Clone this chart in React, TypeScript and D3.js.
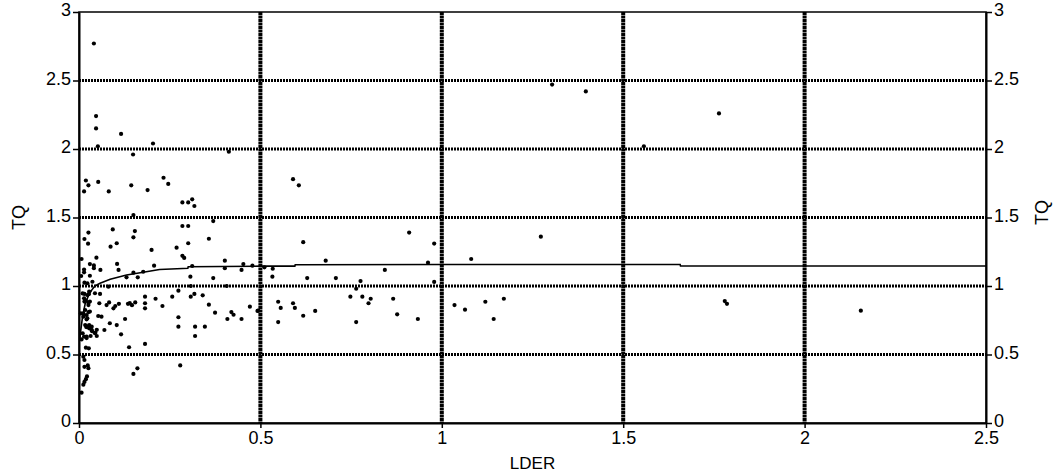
import React, { useEffect, useRef } from 'react';
import * as d3 from 'd3';

// scatter values (LDER, TQ)
const lder = [
  0.041, 0.047, 0.047, 0.052, 0.116, 0.149, 0.204, 0.413, 0.014, 0.019,
  0.026, 0.053, 0.082, 0.144, 0.189, 0.233, 0.246, 0.285, 0.301, 0.312,
  0.318, 0.15, 0.026, 0.015, 0.025, 0.093, 0.154, 0.15, 0.104, 0.087,
  0.2, 0.285, 0.301, 0.37, 0.358, 0.301, 0.269, 0.285, 0.29, 0.007,
  0.048, 0.03, 0.041, 0.041, 0.059, 0.014, 0.014, 0.105, 0.109, 0.207,
  0.006, 0.03, 0.131, 0.15, 0.162, 0.177, 0.037, 0.015, 0.081, 0.023,
  0.402, 0.402, 0.453, 0.448, 0.478, 0.312, 0.511, 0.534, 0.307, 0.37,
  0.533, 0.274, 0.308, 0.407,
  0.015, 0.027, 0.044, 0.015, 0.026, 0.058, 0.056, 0.076, 0.083, 0.1,
  0.095, 0.11, 0.14, 0.146, 0.155, 0.135, 0.182, 0.182, 0.182, 0.211,
  0.23, 0.257, 0.274, 0.274, 0.308, 0.318, 0.341, 0.358, 0.375, 0.409,
  0.42, 0.426, 0.448, 0.471, 0.492, 0.32, 0.347, 0.32, 0.012, 0.026,
  0.021, 0.053, 0.062, 0.085, 0.104, 0.127, 0.07, 0.116, 0.02, 0.028,
  0.032, 0.036, 0.045, 0.049, 0.007, 0.014, 0.021, 0.01, 0.019, 0.027,
  0.138, 0.182, 0.015, 0.026, 0.024, 0.012, 0.015, 0.15, 0.161, 0.279,
  0.022, 0.019, 0.015, 0.012, 0.007,
  0.01, 0.014, 0.019, 0.023, 0.028, 0.026, 0.03, 0.017, 0.021, 0.012,
  0.023, 0.03, 0.017, 0.023, 0.028, 0.035, 0.021, 0.032, 0.044, 0.049,
  0.035, 0.005,
  0.494, 0.549, 0.556, 0.549, 0.59, 0.595, 0.618, 0.651, 0.748, 0.781,
  0.798, 0.804, 0.764, 0.866, 0.877, 0.934, 1.035, 1.064, 1.12, 1.143,
  1.171, 0.59, 0.606, 0.618, 0.68, 0.91, 0.979, 0.962, 1.081, 0.629,
  0.708, 0.843, 0.776, 0.764, 0.979,
  1.273, 1.304, 1.397, 1.557, 1.764, 1.78, 1.786, 2.155,
];

const tq = [
  2.77, 2.24, 2.15, 2.02, 2.11, 1.96, 2.04, 1.98, 1.69, 1.77,
  1.735, 1.76, 1.69, 1.735, 1.7, 1.79, 1.745, 1.61, 1.61, 1.633,
  1.584, 1.518, 1.39, 1.343, 1.309, 1.413, 1.401, 1.355, 1.312, 1.287,
  1.263, 1.438, 1.438, 1.474, 1.345, 1.312, 1.28, 1.22, 1.205, 1.197,
  1.207, 1.16, 1.15, 1.13, 1.117, 1.12, 1.1, 1.161, 1.117, 1.148,
  1.073, 1.075, 1.063, 1.097, 1.063, 1.104, 1.031, 1.024, 0.995, 1.02,
  1.185, 1.13, 1.16, 1.117, 1.148, 1.146, 1.136, 1.126, 1.068, 1.058,
  1.068, 0.966, 1.0, 1.0,
  0.942, 0.94, 0.947, 0.886, 0.878, 0.942, 0.874, 0.861, 0.88, 0.854,
  0.837, 0.87, 0.875, 0.86, 0.88, 0.87, 0.922, 0.874, 0.837, 0.907,
  0.854, 0.922, 0.772, 0.703, 0.922, 0.942, 0.932, 0.864, 0.805, 0.759,
  0.81, 0.79, 0.759, 0.849, 0.818, 0.703, 0.703, 0.635, 0.8, 0.81,
  0.757, 0.781, 0.776, 0.728, 0.715, 0.759, 0.679, 0.647, 0.7, 0.715,
  0.69, 0.67, 0.66, 0.68, 0.61, 0.63, 0.62, 0.655, 0.55, 0.545,
  0.553, 0.577, 0.41, 0.4, 0.42, 0.484, 0.46, 0.358, 0.399, 0.42,
  0.34, 0.32, 0.3, 0.28, 0.221,
  0.946, 0.91, 0.893, 0.934, 0.959, 0.861, 0.886, 0.825, 0.788, 0.776,
  0.764, 0.813, 0.715, 0.703, 0.691, 0.703, 0.63, 0.635, 0.655, 0.635,
  0.679, 0.8,
  0.82, 0.885, 0.84, 0.737, 0.874, 0.84, 0.783, 0.818, 0.922, 0.922,
  0.874, 0.907, 0.737, 0.907, 0.793, 0.759, 0.861, 0.827, 0.885, 0.759,
  0.907, 1.78, 1.735, 1.32, 1.185, 1.39, 1.31, 1.17, 1.197, 1.058,
  1.058, 1.117, 1.036, 0.98, 1.03,
  1.36, 2.47, 2.42, 2.02, 2.26, 0.89, 0.87, 0.82,
];

// fitted curve
const fitX = [0.002, 0.005, 0.01, 0.017, 0.026, 0.035, 0.044, 0.058, 0.086, 0.131, 0.177, 0.222, 0.286, 0.3, 0.301, 0.5, 0.595, 0.596, 1.0, 1.657, 1.658, 2.5];
const fitY = [0.6, 0.68, 0.78, 0.87, 0.93, 0.97, 1.0, 1.02, 1.05, 1.08, 1.1, 1.12, 1.128, 1.13, 1.14, 1.145, 1.145, 1.155, 1.157, 1.157, 1.146, 1.146];

const xTicks = [0, 0.5, 1, 1.5, 2, 2.5];
const yTicks = [0, 0.5, 1, 1.5, 2, 2.5, 3];

const App = () => {
  const svgRef = useRef<SVGSVGElement>(null);

  useEffect(() => {
    const width = 1060;
    const height = 474;
    const left = 79, right = 986, top = 12, bottom = 423;
    const font = 'Arial, "Liberation Sans", sans-serif';

    const svg = d3.select(svgRef.current);
    svg.selectAll('*').remove();
    svg.attr('width', width).attr('height', height);

    const x = d3.scaleLinear().domain([0, 2.5]).range([left, right]);
    const y = d3.scaleLinear().domain([0, 3]).range([bottom, top]);

    // plot frame
    svg.append('rect')
      .attr('x', left).attr('y', top)
      .attr('width', right - left).attr('height', bottom - top)
      .attr('fill', 'none')
      .attr('stroke', '#000')
      .attr('stroke-width', 1.5);

    // grid
    svg.append('g')
      .selectAll('line')
      .data(yTicks.filter(d => d > 0 && d < 3))
      .enter()
      .append('line')
      .attr('x1', left).attr('x2', right)
      .attr('y1', d => y(d)).attr('y2', d => y(d))
      .attr('stroke', '#000')
      .attr('stroke-width', 3)
      .attr('stroke-dasharray', '2,1');

    svg.append('g')
      .selectAll('line')
      .data(xTicks.filter(d => d > 0 && d < 2.5))
      .enter()
      .append('line')
      .attr('y1', top).attr('y2', bottom)
      .attr('x1', d => x(d)).attr('x2', d => x(d))
      .attr('stroke', '#000')
      .attr('stroke-width', 4)
      .attr('stroke-dasharray', '3,0.5');

    // fit line
    const line = d3.line<number>()
      .x((_, i) => x(fitX[i]))
      .y(d => y(d));
    svg.append('path')
      .attr('d', line(fitY))
      .attr('fill', 'none')
      .attr('stroke', '#000')
      .attr('stroke-width', 1.6);

    // points
    svg.append('g')
      .selectAll('circle')
      .data(tq)
      .enter()
      .append('circle')
      .attr('cx', (_, i) => x(lder[i]))
      .attr('cy', d => y(d))
      .attr('r', 2.1)
      .attr('fill', '#000');

    // axes
    const styleAxis = (g: any) => {
      g.select('.domain').attr('stroke-width', 2);
      g.selectAll('.tick line').attr('stroke-width', 1.5);
      g.selectAll('.tick text').attr('font-family', font).attr('font-size', 18).attr('fill', '#000');
    };

    svg.append('g')
      .attr('transform', `translate(0,${bottom})`)
      .call(d3.axisBottom(x).tickValues(xTicks).tickFormat(d3.format('')).tickSizeInner(5).tickSizeOuter(0).tickPadding(3))
      .call(styleAxis);

    svg.append('g')
      .attr('transform', `translate(${left},0)`)
      .call(d3.axisLeft(y).tickValues(yTicks).tickFormat(d3.format('')).tickSizeInner(6).tickSizeOuter(0).tickPadding(2))
      .call(styleAxis)
      .call((g: any) => g.selectAll('.tick text').attr('dy', '0.22em'));

    svg.append('g')
      .attr('transform', `translate(${right},0)`)
      .call(d3.axisRight(y).tickValues(yTicks).tickFormat(d3.format('')).tickSizeInner(6).tickSizeOuter(0).tickPadding(2))
      .call(styleAxis)
      .call((g: any) => g.selectAll('.tick text').attr('dy', '0.22em'));

    // titles
    svg.append('text')
      .text('LDER')
      .attr('x', (left + right) / 2)
      .attr('y', 469)
      .attr('text-anchor', 'middle')
      .attr('font-family', font)
      .attr('font-size', 17);

    svg.append('text')
      .text('TQ')
      .attr('transform', `translate(25,${(top + bottom) / 2}) rotate(-90)`)
      .attr('text-anchor', 'middle')
      .attr('font-family', font)
      .attr('font-size', 18);

    svg.append('text')
      .text('TQ')
      .attr('transform', `translate(1048,${(top + bottom) / 2 - 5}) rotate(-90)`)
      .attr('text-anchor', 'middle')
      .attr('font-family', font)
      .attr('font-size', 18);
  }, []);

  return <svg ref={svgRef} style={{ position: 'absolute', left: 0, top: 0 }}></svg>;
};

export default App;
